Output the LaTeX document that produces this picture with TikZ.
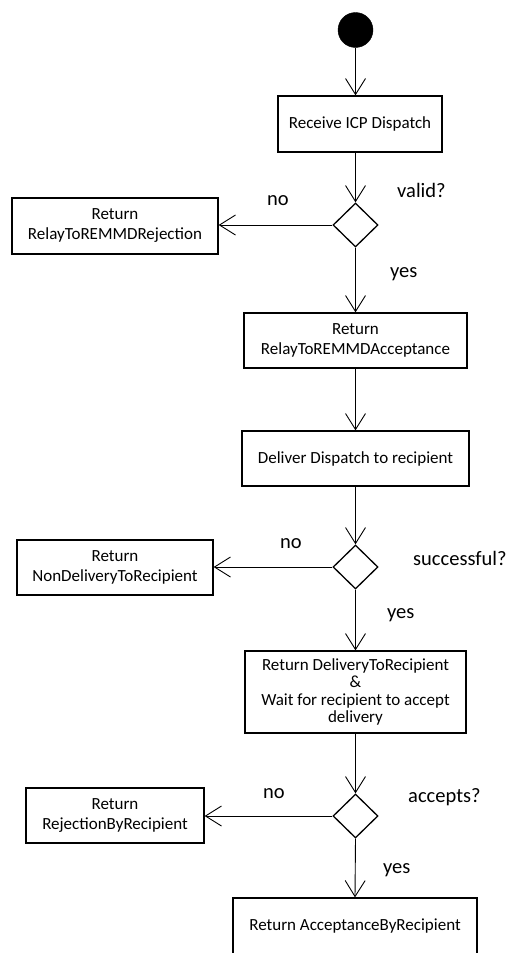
\documentclass[tikz,border=0pt]{standalone}
\usepackage{fontspec}
\setmainfont{Carlito}
\usetikzlibrary{shapes.geometric,arrows.meta}
\begin{document}
\begin{tikzpicture}[x=1pt,y=-1pt,
  box/.style={draw, line width=1.3pt, rectangle, inner sep=0pt, align=center,
    font=\fontsize{17}{20}\selectfont},
  decision/.style={draw, diamond, line width=1.3pt, inner sep=0pt,
    minimum width=45pt, minimum height=44pt},
  flow/.style={draw, line width=0.9pt, -{Straight Barb[length=16pt,width=20pt]}},
  guard/.style={font=\fontsize{20.5}{24}\selectfont, anchor=base west, inner sep=0pt}]
\clip (0,0) rectangle (509,953);

% start state
\node[circle, fill=black, draw, minimum size=35pt, inner sep=0pt] (start) at (355.5,30) {};

% main flow
\node[box, minimum width=164pt, minimum height=56pt] (recv) at (360,124) {Receive ICP Dispatch};
\node[decision] (d1) at (355.5,225) {};
\node[box, minimum width=206pt, minimum height=56pt] (rej1) at (115,226) {Return\\RelayToREMMDRejection};
\node[box, minimum width=223pt, minimum height=55pt] (acc) at (355.5,340.5) {Return\\RelayToREMMDAcceptance};
\node[box, minimum width=227pt, minimum height=55pt] (deliver) at (355.5,458.5) {Deliver Dispatch to recipient};
\node[decision] (d2) at (355.5,567) {};
\node[box, minimum width=196pt, minimum height=55pt] (rej2) at (115,567.5) {Return\\NonDeliveryToRecipient};
\node[box, minimum width=221pt, minimum height=82pt, font=\fontsize{17}{17.5}\selectfont] (dlv) at (355.5,692)
  {Return DeliveryToRecipient\\\&\\Wait for recipient to accept\\delivery};
\node[decision] (d3) at (355.5,816) {};
\node[box, minimum width=178pt, minimum height=55pt] (rej3) at (115,815.5) {Return\\RejectionByRecipient};
\node[box, minimum width=244pt, minimum height=57pt] (fin) at (355,926.5) {Return AcceptanceByRecipient};

% connectors
\draw[flow] (start.south) -- (start.south |- recv.north);
\draw[flow] (d1 |- recv.south) -- (d1.north);
\draw[flow] (d1.west) -- (d1.west -| rej1.east);
\draw[flow] (d1.south) -- (acc.north);
\draw[flow] (acc.south) -- (deliver.north);
\draw[flow] (deliver.south) -- (d2.north);
\draw[flow] (d2.west) -- (d2.west -| rej2.east);
\draw[flow] (d2.south) -- (dlv.north);
\draw[flow] (dlv.south) -- (d3.north);
\draw[flow] (d3.west) -- (d3.west -| rej3.east);
\draw[flow] (d3.south) -- (fin.north);

% guards
\node[guard] (no1) at (267,205) {no};
\node[guard] (q1) at (397,197) {valid?};
\node[guard] (yes1) at (390,277) {yes};
\node[guard] (no2) at (280,548) {no};
\node[guard] (q2) at (413,565) {successful?};
\node[guard] (yes2) at (387,618) {yes};
\node[guard] (no3) at (263,798) {no};
\node[guard] (q3) at (408,802) {accepts?};
\node[guard] (yes3) at (383,873) {yes};
\end{tikzpicture}
\end{document}
